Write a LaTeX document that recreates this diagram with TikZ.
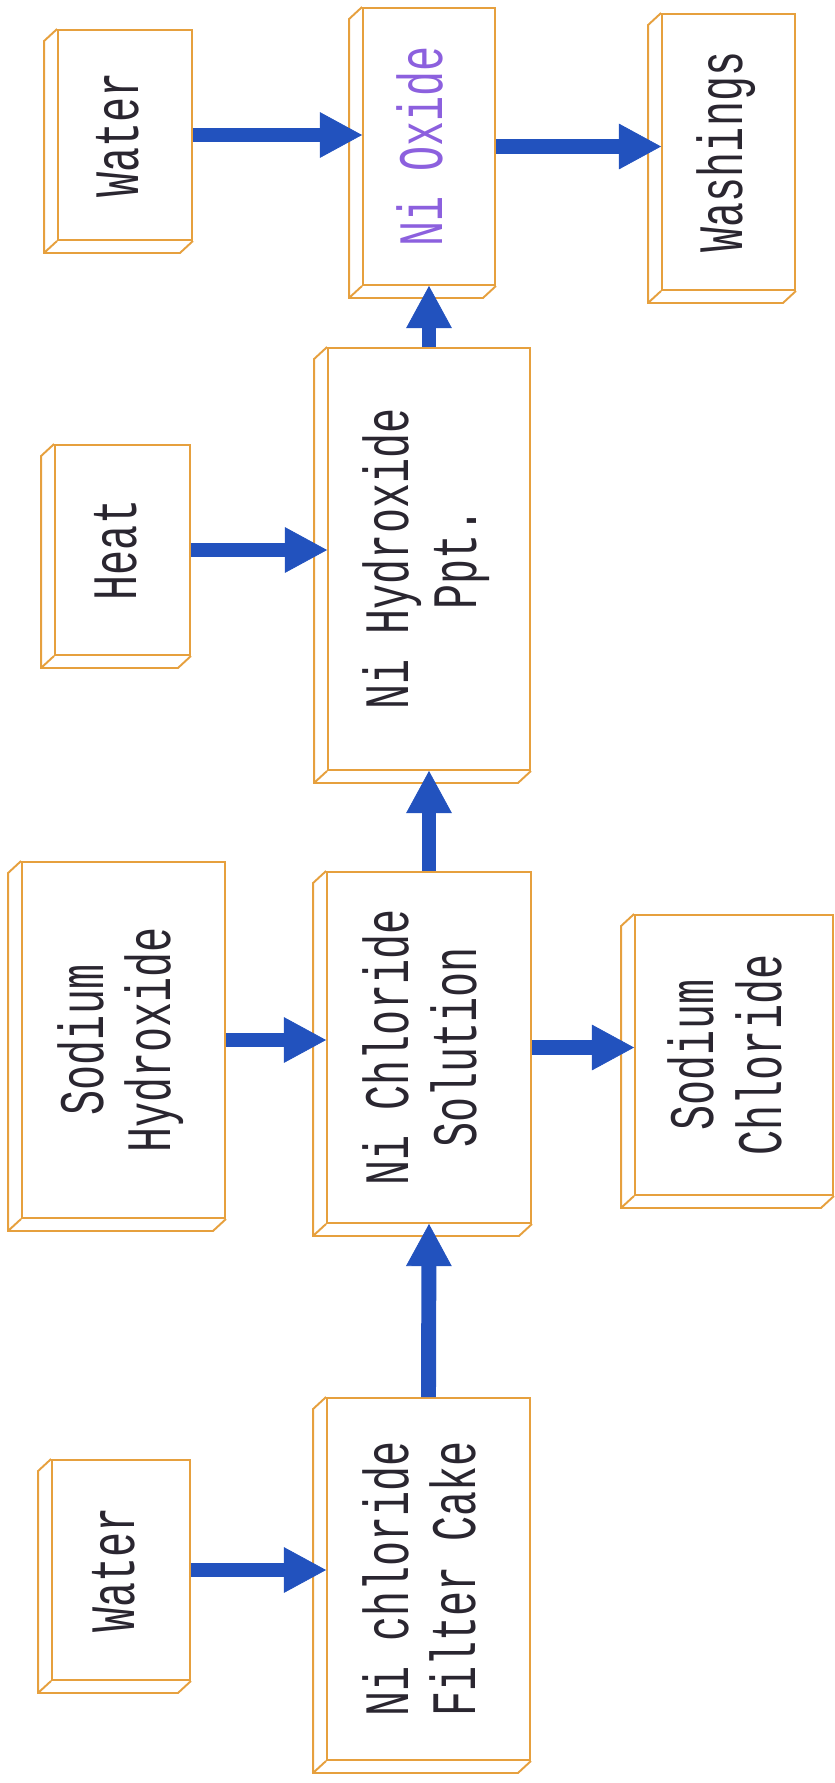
\documentclass[tikz,border=0pt]{standalone}
\usepackage{fontspec}
\usepackage{graphicx}
\usetikzlibrary{arrows.meta}
\newfontfamily\labelfont[FakeStretch=0.66]{Liberation Mono}
\definecolor{boxorange}{RGB}{230,160,62}
\definecolor{flowblue}{RGB}{34,82,190}
\definecolor{inkgray}{RGB}{42,38,48}
\definecolor{oxidepurple}{RGB}{140,96,222}
\newcommand{\boxLabel}[1]{\rotatebox{90}{\begin{tabular}{@{}c@{}}#1\end{tabular}}}

\begin{document}
\begin{tikzpicture}[x=0.02cm, y=-0.02cm]
  \tikzset{
    stage/.style 2 args={draw=boxorange, line width=1.1pt, inner sep=0pt,
      minimum width=#1*0.02cm, minimum height=#2*0.02cm,
      text=inkgray, font=\labelfont\fontsize{36}{38.6}\selectfont},
    depth/.style={draw=boxorange, line width=1.1pt},
    flow/.style={draw=flowblue, line width=8.5pt,
      -{Triangle[width=26pt,length=24pt,line width=0.4pt]}}
  }
  \useasboundingbox (0,0) rectangle (835,1783);
  \node[stage={134}{210}] (wtrA) at (125,135) {\boxLabel{Water}};
  \node[stage={132}{277}, text=oxidepurple] (oxide) at (429,146.5) {\boxLabel{Ni Oxide}};
  \node[stage={133}{276}] (wash) at (728.5,152) {\boxLabel{Washings}};
  \node[stage={135}{210}] (heat) at (122.5,550) {\boxLabel{Heat}};
  \node[stage={202}{422}] (hydrox) at (429,559) {\boxLabel{Ni Hydroxide\\Ppt.}};
  \node[stage={203}{356}] (naoh) at (123.5,1040) {\boxLabel{Sodium\\Hydroxide}};
  \node[stage={204}{351}] (nicl) at (429,1047.5) {\boxLabel{Ni Chloride\\Solution}};
  \node[stage={198}{280}] (nacl) at (734,1055) {\boxLabel{Sodium\\Chloride}};
  \node[stage={138}{220}] (wtrB) at (121,1570) {\boxLabel{Water}};
  \node[stage={203}{362}] (cake) at (428.5,1579) {\boxLabel{Ni chloride\\Filter Cake}};

  \foreach \n in {wtrA,oxide,wash,heat,hydrox,naoh,nicl,nacl,wtrB,cake}
    \draw[depth] (\n.north west) -- ++(-13,12) |- ([shift={(-13,12)}]\n.south east)
      -- (\n.south east) (\n.south west) -- ++(-13,12);

  \draw[flow] (wtrA.east) -- (wtrA.east -| oxide.west);
  \draw[flow] (oxide.east) -- (oxide.east -| wash.west);
  \draw[flow] (heat.east) -- (heat.east -| hydrox.west);
  \draw[flow] (hydrox.north) -- (oxide.south);
  \draw[flow] (naoh.east) -- (naoh.east -| nicl.west);
  \draw[flow] (nicl.north) -- (hydrox.south);
  \draw[flow] (nicl.east) -- (nicl.east -| nacl.west);
  \draw[flow] (wtrB.east) -- (wtrB.east -| cake.west);
  \draw[flow] (cake.north) -- (nicl.south);
\end{tikzpicture}
\end{document}
